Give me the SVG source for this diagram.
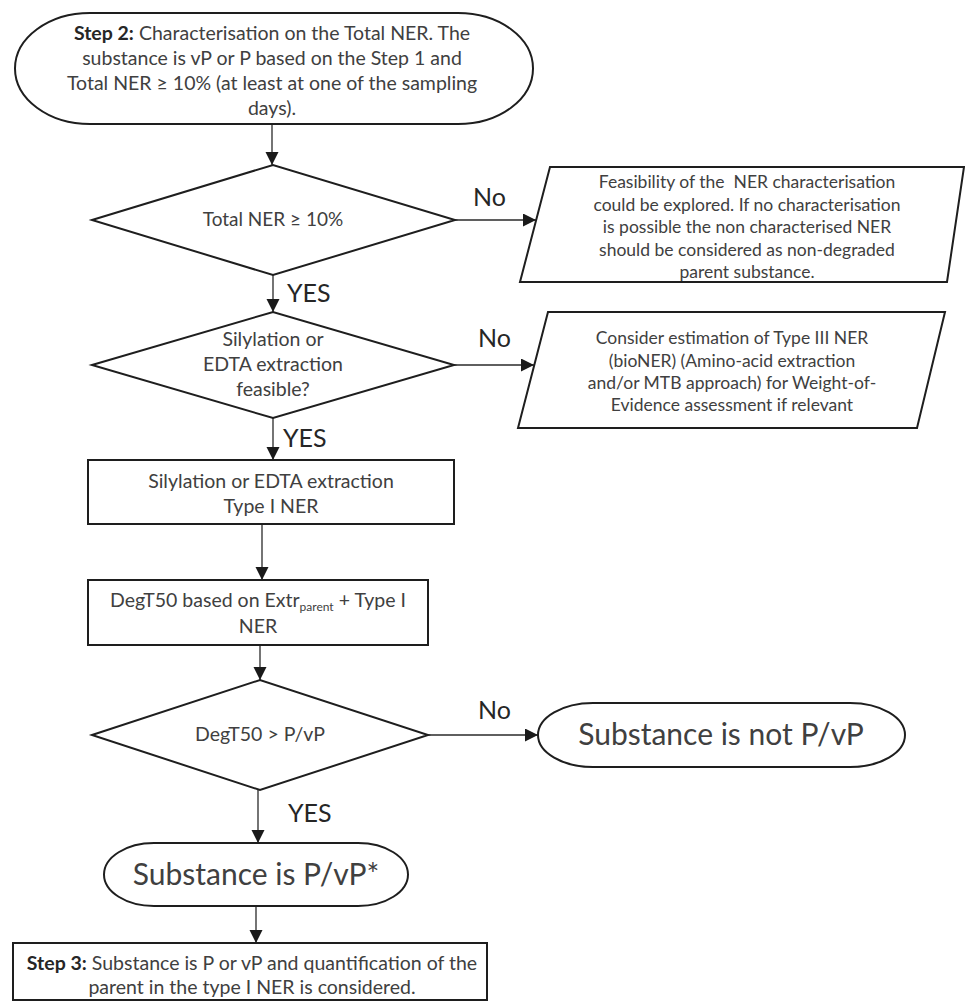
<svg xmlns="http://www.w3.org/2000/svg" width="965" height="1001" viewBox="0 0 965 1001">
<defs>
<marker id="ah" markerUnits="userSpaceOnUse" markerWidth="14" markerHeight="14" refX="13" refY="6.5" orient="auto">
<path d="M0,0 L13,6.5 L0,13 z" fill="#1a1a1a"/>
</marker>
<style>
.sh{fill:#fff;stroke:#1e1e1e;stroke-width:2}
.t{font-family:Lato,"Open Sans","Liberation Sans",sans-serif;fill:#404040;text-anchor:middle}
.b{font-weight:bold;fill:#262626}
.lbl{font-family:Lato,"Open Sans","Liberation Sans",sans-serif;fill:#262626;font-size:25px}
.c{fill:none;stroke:#2a2a2a;stroke-width:1.3;marker-end:url(#ah)}
</style>
</defs>
<rect width="965" height="1001" fill="#fff"/>

<g id="connectors">
<line class="c" x1="272" y1="124" x2="272" y2="165"/>
<line class="c" x1="455" y1="220" x2="536" y2="220"/>
<line class="c" x1="273" y1="275" x2="273" y2="312"/>
<line class="c" x1="454" y1="365" x2="534" y2="365"/>
<line class="c" x1="273" y1="418" x2="273" y2="460"/>
<line class="c" x1="262" y1="524" x2="262" y2="580"/>
<line class="c" x1="260" y1="645" x2="260" y2="680"/>
<line class="c" x1="428" y1="735" x2="538" y2="735"/>
<line class="c" x1="258" y1="790" x2="258" y2="843"/>
<line class="c" x1="256" y1="906" x2="256" y2="943"/>
<text class="lbl" x="473" y="206">No</text>
<text class="lbl" x="287" y="302">YES</text>
<text class="lbl" x="478" y="347">No</text>
<text class="lbl" x="283" y="447">YES</text>
<text class="lbl" x="478" y="719">No</text>
<text class="lbl" x="288" y="822">YES</text>
</g>

<g id="step2">
<rect class="sh" x="15" y="13" width="518" height="111" rx="75" ry="55.5"/>
<text class="t" font-size="19.5" x="272" y="40"><tspan class="b">Step 2:</tspan> Characterisation on the Total NER. The</text>
<text class="t" font-size="19.5" x="272" y="65">substance is vP or P based on the Step 1 and</text>
<text class="t" font-size="19.5" x="272" y="90">Total NER ≥ 10% (at least at one of the sampling</text>
<text class="t" font-size="19.5" x="272" y="115">days).</text>
</g>

<g id="dec-total-ner">
<polygon class="sh" points="92,220 273,165 455,220 273,275"/>
<text class="t" font-size="19" x="273" y="226" fill="#555">Total NER ≥ 10%</text>
</g>

<g id="feasibility">
<polygon class="sh" points="550,167 964,167 947,282 520,282"/>
<text class="t" font-size="17.5" x="747" y="188" xml:space="preserve">Feasibility of the  NER characterisation</text>
<text class="t" font-size="17.5" x="747" y="210.5">could be explored. If no characterisation</text>
<text class="t" font-size="17.5" x="747" y="233">is possible the non characterised NER</text>
<text class="t" font-size="17.5" x="747" y="255.5">should be considered as non-degraded</text>
<text class="t" font-size="17.5" x="747" y="278">parent substance.</text>
</g>

<g id="dec-silylation">
<polygon class="sh" points="92,365 273,312 454,365 273,418"/>
<text class="t" font-size="19.5" x="273" y="346">Silylation or</text>
<text class="t" font-size="19.5" x="273" y="371">EDTA extraction</text>
<text class="t" font-size="19.5" x="273" y="396">feasible?</text>
</g>

<g id="type3">
<polygon class="sh" points="548,312 945,312 917,428 518,428"/>
<text class="t" font-size="17.5" x="732" y="344">Consider estimation of Type III NER</text>
<text class="t" font-size="17.5" x="732" y="367">(bioNER) (Amino-acid extraction</text>
<text class="t" font-size="17.5" x="732" y="389">and/or MTB approach) for Weight-of-</text>
<text class="t" font-size="17.5" x="732" y="411">Evidence assessment if relevant</text>
</g>

<g id="silylation">
<rect class="sh" x="88" y="460" width="366" height="64"/>
<text class="t" font-size="19.5" x="271" y="488">Silylation or EDTA extraction</text>
<text class="t" font-size="19.5" x="271" y="513">Type I NER</text>
</g>

<g id="degt50">
<rect class="sh" x="88" y="580" width="340" height="65"/>
<text class="t" font-size="19.5" x="258" y="607">DegT50 based on Extr<tspan font-size="12" dy="4">parent</tspan><tspan dy="-4">  + Type I</tspan></text>
<text class="t" font-size="19.5" x="258" y="633">NER</text>
</g>

<g id="dec-degt50">
<polygon class="sh" points="92,735 260,680 428,735 260,790"/>
<text class="t" font-size="19.5" x="260" y="741">DegT50 &gt; P/vP</text>
</g>

<g id="not-pvp">
<rect class="sh" x="538" y="703" width="367" height="64" rx="55" ry="32"/>
<text class="t" font-size="30" fill="#333" x="721" y="745">Substance is not P/vP</text>
</g>

<g id="is-pvp">
<rect class="sh" x="104" y="843" width="304" height="63" rx="50" ry="31.5"/>
<text class="t" font-size="30" fill="#333" x="256" y="885">Substance is P/vP*</text>
</g>

<g id="step3">
<rect class="sh" x="13" y="943" width="474" height="57"/>
<text class="t" font-size="19.5" x="252" y="970"><tspan class="b">Step 3:</tspan> Substance is P or vP and quantification of the</text>
<text class="t" font-size="19.5" x="252" y="994">parent in the type I NER is considered.</text>
</g>
</svg>
